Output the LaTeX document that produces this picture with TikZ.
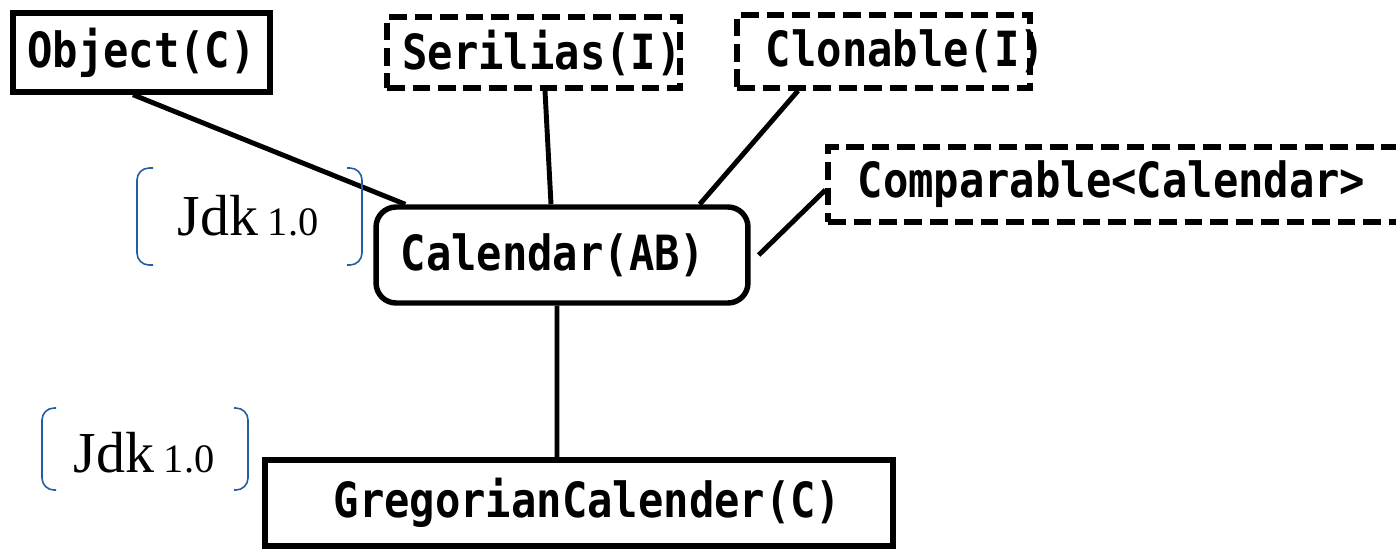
\documentclass[tikz,border=0pt]{standalone}
\usepackage{fontspec}
\newfontfamily\monob{DejaVu Sans Mono}
\newfontfamily\jdkfont{Liberation Serif}
\definecolor{brk}{RGB}{35,95,160}
\tikzset{
  box/.style={draw, line width=3.1pt, font=\monob\bfseries\fontsize{24pt}{24pt}\selectfont, inner sep=0pt},
  ibox/.style={box, dash pattern=on 10pt off 4.5pt},
  conn/.style={line width=2.8pt},
  brak/.style={draw=brk, line width=0.9pt, rounded corners=0.24cm},
  jdk/.style={font=\jdkfont\fontsize{33pt}{33pt}\selectfont, inner sep=0pt}
}
\newcommand{\tall}[1]{\scalebox{1}[1.15]{#1}}
\newcommand{\osn}[1]{{\fontsize{23pt}{23pt}\selectfont #1}}
\begin{document}
\begin{tikzpicture}[x=0.02cm,y=-0.02cm]
\useasboundingbox (0,0) rectangle (1396,549);
\clip (0,0) rectangle (1396,549);
\node[box, minimum width=5.14cm, minimum height=1.58cm] (obj) at (141.5,52.5) {\tall{Object(C)}};
\node[ibox, minimum width=5.86cm, minimum height=1.42cm] (ser) at (533.5,52.5) {\hspace*{0.17cm}\tall{Serilias(I)}\hspace*{-0.17cm}};
\node[ibox, minimum width=5.86cm, minimum height=1.46cm] (clo) at (883.5,51.5) {\hspace*{0.44cm}\tall{Clonable(I)}\hspace*{-0.44cm}};
\node[ibox, minimum width=11.84cm, minimum height=1.5cm] (cmp) at (1124,184.5) {\hspace*{-0.25cm}\tall{Comparable<Calendar>}\hspace*{0.25cm}};
\node[box, rounded corners=0.4cm, minimum width=7.44cm, minimum height=1.92cm] (cal) at (562,255) {\hspace*{-0.18cm}\tall{Calendar(AB)}\hspace*{0.18cm}};
\node[box, minimum width=12.56cm, minimum height=1.72cm] (greg) at (579,503) {\hspace*{0.17cm}\tall{GregorianCalender(C)}\hspace*{-0.17cm}};
\draw[conn] ([xshift=-0.17cm]obj.south) -- ([xshift=0.64cm]cal.north west);
\draw[conn] ([xshift=0.23cm]ser.south) -- ([xshift=-0.22cm]cal.north);
\draw[conn] ([xshift=-1.71cm]clo.south) -- ([xshift=-1.02cm]cal.north east);
\draw[conn] ([yshift=-0.11cm]cmp.west) -- ([xshift=0.16cm]cal.east);
\draw[conn] ([xshift=-0.1cm]cal.south) -- ([xshift=-0.44cm]greg.north);
% Jdk labels
\node[jdk] (jdka) at (248,216) {Jdk\,\osn{1.0}};
\node[jdk] (jdkb) at (144,453) {Jdk\,\osn{1.0}};
\draw[brak] (153,168) -- (137,168) -- (137,265) -- (153,265);
\draw[brak] (347,168) -- (362,168) -- (362,265) -- (347,265);
\draw[brak] (56,408) -- (42,408) -- (42,490) -- (56,490);
\draw[brak] (234,408) -- (248,408) -- (248,490) -- (234,490);
\end{tikzpicture}
\end{document}
